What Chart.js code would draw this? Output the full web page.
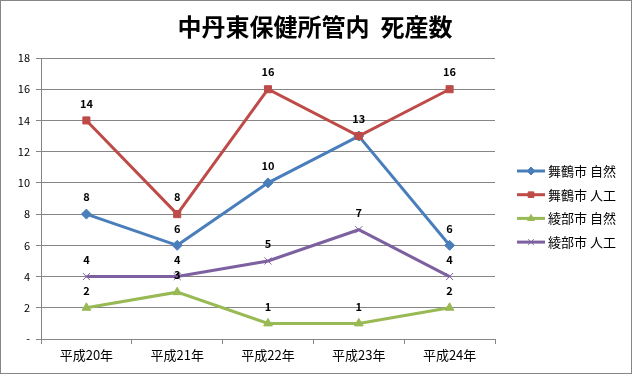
<!DOCTYPE html>
<html>
<head>
<meta charset="utf-8">
<script src="https://cdn.jsdelivr.net/npm/chart.js@4"></script>
<style>
  body { margin: 0; background: #fff; }
  #wrap { width: 632px; height: 374px; position: relative; }
</style>
</head>
<body>
<div id="wrap"><canvas id="myChart"></canvas></div>
<script>
var categories = ["平成20年", "平成21年", "平成22年", "平成23年", "平成24年"];
var seriesNames = ["舞鶴市 自然", "舞鶴市 人工", "綾部市 自然", "綾部市 人工"];
var maizuruNatural = [8, 6, 10, 13, 6];
var maizuruInduced = [14, 8, 16, 13, 16];
var ayabeNatural = [2, 3, 1, 1, 2];
var ayabeInduced = [4, 4, 5, 7, 4];
var yTicks = [0, 2, 4, 6, 8, 10, 12, 14, 16, 18];

var font = "'Noto Sans CJK JP', 'DejaVu Sans', sans-serif";
var colours = ['#4A7EBB', '#BE4B48', '#98B954', '#7D60A0'];
var styles = ['rectRot', 'rect', 'triangle', 'crossRot'];
var values = [maizuruNatural, maizuruInduced, ayabeNatural, ayabeInduced];

// draws value labels, legend, title and border
var extras = {
  id: 'extras',
  afterDatasetsDraw: function(chart) {
    var ctx = chart.ctx;
    ctx.save();
    ctx.fillStyle = '#000';
    ctx.font = 'bold 11px ' + font;
    ctx.textAlign = 'center';
    ctx.textBaseline = 'middle';
    var done = {};
    chart.data.datasets.forEach(function(ds, i) {
      chart.getDatasetMeta(i).data.forEach(function(pt, j) {
        var key = Math.round(pt.x) + ',' + Math.round(pt.y);
        if (done[key]) return;
        done[key] = true;
        ctx.fillText(ds.data[j], pt.x, pt.y - 17);
      });
    });

    // legend
    ctx.font = '13px ' + font;
    ctx.textAlign = 'left';
    chart.data.datasets.forEach(function(ds, i) {
      var y = 171 + i * 23.7;
      ctx.strokeStyle = ds.borderColor;
      ctx.fillStyle = ds.borderColor;
      ctx.lineWidth = 3;
      ctx.beginPath();
      ctx.moveTo(517, y);
      ctx.lineTo(545, y);
      ctx.stroke();
      ctx.lineWidth = 1;
      Chart.helpers.drawPoint(ctx, {pointStyle: ds.pointStyle, radius: 4, borderWidth: 1}, 531, y);
      ctx.fillStyle = '#000';
      ctx.fillText(ds.label, 548, y);
    });

    // title
    ctx.font = 'bold 24px ' + font;
    ctx.textAlign = 'center';
    ctx.fillText('中丹東保健所管内  死産数', 315, 27);

    // outer border
    ctx.strokeStyle = '#868686';
    ctx.lineWidth = 1;
    ctx.strokeRect(0.5, 0.5, 631, 373);
    ctx.restore();
  }
};

var datasets = seriesNames.map(function(name, i) {
  return {
    label: name,
    data: values[i],
    order: 4 - i,
    borderColor: colours[i],
    backgroundColor: colours[i],
    pointStyle: styles[i],
    pointRadius: 5,
    pointHoverRadius: 5,
    pointBorderWidth: 1,
    borderWidth: 3,
    tension: 0,
    fill: false
  };
});

var ctx = document.getElementById('myChart').getContext('2d');
var chart = new Chart(ctx, {
  type: 'line',
  data: { labels: categories, datasets: datasets },
  options: {
    responsive: true,
    maintainAspectRatio: false,
    animation: false,
    layout: { padding: { left: 0, top: 58, right: 137, bottom: 0 } },
    plugins: {
      legend: { display: false },
      title: { display: false },
      tooltip: { enabled: false }
    },
    scales: {
      x: {
        offset: true,
        afterFit: function(s) { s.height = 35; },
        grid: { display: true, drawOnChartArea: false, offset: true, color: '#868686', tickLength: 5 },
        border: { color: '#868686' },
        ticks: { color: '#000', font: { size: 13, family: font }, padding: 3 }
      },
      y: {
        min: 0,
        max: 18,
        afterFit: function(s) { s.width = 41; },
        afterBuildTicks: function(s) { s.ticks = yTicks.map(function(v) { return { value: v }; }); },
        grid: { color: '#868686', tickLength: 5 },
        border: { color: '#868686' },
        ticks: {
          color: '#000',
          font: { size: 11, family: font },
          padding: 6,
          callback: function(v) { return v === 0 ? '-' : v; }
        }
      }
    }
  },
  plugins: [extras]
});
</script>
</body>
</html>
